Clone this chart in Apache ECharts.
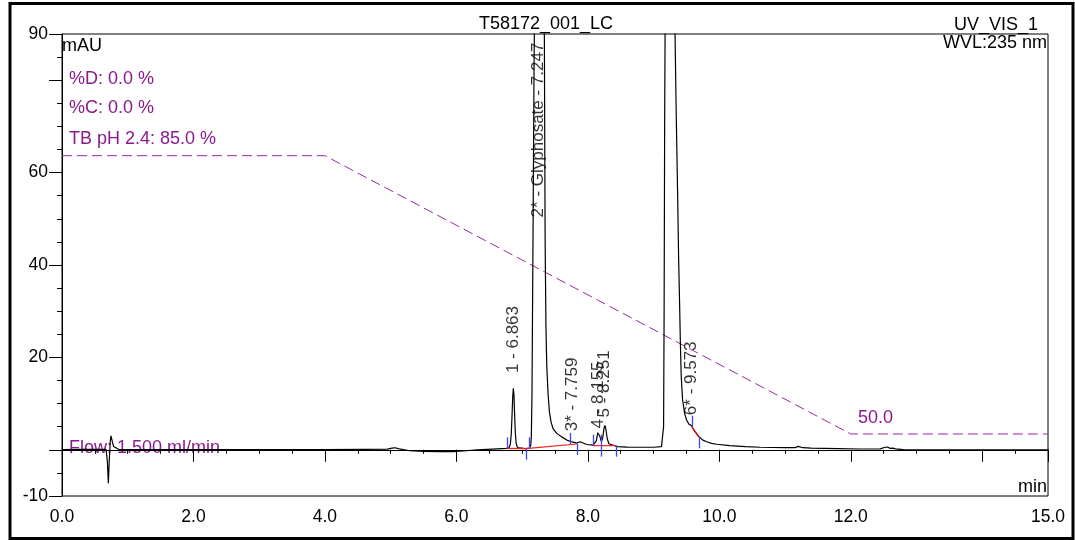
<!DOCTYPE html>
<html>
<head>
<meta charset="utf-8">
<script src="https://cdn.jsdelivr.net/npm/echarts@6/dist/echarts.min.js"></script>
<style>
    html, body { margin: 0; padding: 0; background: #fff; }
    #chart { width: 1075px; height: 540px; }
</style>
</head>
<body>
<div id="chart"></div>
<script>
// detector trace (min / mAU)
var traceTime = [
    0.00, 0.30, 0.60, 0.67, 0.69, 0.705, 0.72, 0.735, 0.745, 0.765, 0.785, 0.81, 0.86,
    1.2, 2.0, 3.0, 4.0, 4.6, 4.95, 5.02, 5.07, 5.13, 5.29, 5.5, 5.75, 5.95, 6.15, 6.31, 6.55,
    6.765, 6.80, 6.82, 6.835, 6.848, 6.857, 6.866, 6.876, 6.886, 6.897, 6.91, 6.93, 6.96, 7.05, 7.11,
    7.13, 7.14, 7.15, 7.165, 7.18, 7.195, 7.22, 7.247, 7.28, 7.31, 7.338, 7.35, 7.362, 7.375, 7.395,
    7.415, 7.44, 7.47, 7.53, 7.60, 7.68, 7.76, 7.83, 7.86, 7.885, 7.91, 7.98, 8.08,
    8.11, 8.13, 8.15, 8.165, 8.18, 8.205, 8.225, 8.245, 8.26, 8.275, 8.295, 8.32, 8.35, 8.45, 8.6, 8.8, 9.0,
    9.12, 9.14, 9.152, 9.16, 9.168, 9.178, 9.2, 9.25, 9.30, 9.326, 9.345, 9.366, 9.38, 9.395, 9.406,
    9.42, 9.44, 9.47, 9.50, 9.535, 9.56, 9.578, 9.595, 9.62, 9.646, 9.67, 9.696, 9.75, 9.808, 9.88, 9.96,
    10.16, 10.4, 10.62, 11.0, 11.15, 11.2, 11.23, 11.27, 11.4, 11.8, 12.14, 12.45, 12.52, 12.556, 12.6,
    12.64, 12.68, 12.8, 13.5, 14.2, 15.0
];
var traceSignal = [
    0.05, 0.08, 0.1, 0.1, -2.5, -7.25, -2.0, 2.0, 3.0, 1.8, 0.7, 0.3, 0.1,
    0.05, 0.05, 0.05, 0.05, 0.1, 0.15, 0.35, 0.45, 0.2, -0.2, -0.35, -0.4, -0.4, -0.2, 0.0, 0.15,
    0.3, 0.45, 1.2, 3.5, 8.0, 11.5, 13.3, 11.8, 7.5, 3.5, 1.3, 0.5, 0.3, 0.25, 0.35,
    0.9, 3, 12, 45, 80, 105, 135, 150, 135, 115, 90, 45, 27, 18, 12,
    8.2, 6.0, 4.6, 3.5, 2.8, 2.1, 1.7, 1.45, 1.6, 1.75, 1.45, 1.15, 1.0,
    1.05, 2.0, 3.7, 4.1, 3.0, 1.8, 2.5, 4.6, 5.3, 4.4, 2.4, 1.3, 0.9, 0.7, 0.6, 0.55, 0.55,
    0.7, 0.95, 5, 30, 70, 100, 180, 220, 160, 90, 72, 55, 42, 32, 24,
    16, 11, 8, 6.5, 5.6, 5.3, 5.2, 4.7, 4.1, 3.6, 3.1, 2.7, 2.1, 1.75, 1.4, 1.2,
    0.9, 0.7, 0.55, 0.45, 0.45, 0.75, 0.8, 0.45, 0.35, 0.25, 0.17, 0.2, 0.55, 0.6, 0.3,
    0.35, 0.2, 0.05, 0.0, 0.0, 0.0
];

// gradient program (TB pH 2.4, %)
var gradientTime = [0, 4, 12, 15];
var gradientPercent = [85, 85, 50, 50];

// identified peaks
var peakTimes = [6.863, 7.247, 7.759, 8.155, 8.251, 9.573];
var peakNames = ['1 - 6.863', '2* - Glyphosate - 7.247', '3* - 7.759', '4 - 8.155', '5 - 8.251', '6* - 9.573'];
var peakLabelLevel = [16.6, 50.3, 4.0, 4.6, 7.0, 7.5];

// integration baselines [t1, v1, t2, v2] and delimiters [t, v, side]
var integrationBaselines = [
    [6.765, 0.32, 7.055, 0.25],
    [7.055, 0.25, 7.83, 1.26],
    [8.08, 0.9, 8.43, 0.9],
    [9.58, 5.0, 9.70, 2.7]
];
var integrationMarks = [
    [6.765, 0.32, 1], [7.055, 0.25, -1], [7.11, 0.3, 1], [7.729, 1.26, 1], [7.83, 1.26, -1],
    [8.083, 0.9, 1], [8.196, 0.9, 0], [8.428, 0.9, -1], [9.58, 5.0, 1], [9.696, 2.7, -1]
];

// axis ticks
var xMajorTicks = [0, 2, 4, 6, 8, 10, 12, 14, 15];
var xTickLabels = [0, 2, 4, 6, 8, 10, 12, 15];
var yMajorTicks = [-10, 0, 20, 40, 60, 80, 90];
var yTickLabels = [-10, 20, 40, 60, 90];

var fontName = '"Liberation Sans", Arial, sans-serif';
var purple = '#8b1a8b';
var gridBox = { left: 62, top: 34, right: 27, bottom: 44 };

var chart = echarts.init(document.getElementById('chart'), null, { renderer: 'canvas' });

var traceData = traceTime.map(function(t, i) {
    return [t, traceSignal[i]];
});
var gradientData = gradientTime.map(function(t, i) {
    return [t, gradientPercent[i]];
});
var peakData = peakTimes.map(function(t, i) {
    return { value: [t, peakLabelLevel[i]], name: peakNames[i] };
});

function textEl(text, x, y, align, color) {
    return {
        type: 'text',
        x: x,
        y: y,
        silent: true,
        style: {
            text: text,
            fill: color || '#000',
            font: '18px ' + fontName,
            textAlign: align || 'left',
            textVerticalAlign: 'middle'
        }
    };
}

var option = {
    animation: false,
    backgroundColor: '#fff',
    textStyle: { fontFamily: fontName },
    grid: [
        Object.assign({ show: true, borderColor: '#000', borderWidth: 1, backgroundColor: 'transparent' }, gridBox),
        Object.assign({}, gridBox)
    ],
    xAxis: [
        {
            gridIndex: 0,
            type: 'value',
            min: 0,
            max: 15,
            interval: 0.5,
            axisLine: { lineStyle: { color: '#000', width: 1 } },
            axisTick: { length: 4, lineStyle: { color: '#000' } },
            axisLabel: { show: false },
            splitLine: { show: false }
        },
        {
            gridIndex: 1,
            type: 'value',
            min: 0,
            max: 15,
            interval: 0.5,
            axisLine: { show: false },
            axisTick: { customValues: xMajorTicks, length: 12, lineStyle: { color: '#000' } },
            axisLabel: {
                customValues: xTickLabels,
                margin: 12,
                fontSize: 17.5,
                color: '#000',
                fontFamily: fontName,
                formatter: function(v) { return v.toFixed(1); }
            },
            splitLine: { show: false }
        }
    ],
    yAxis: [
        {
            gridIndex: 0,
            type: 'value',
            min: -10,
            max: 90,
            interval: 5,
            axisLine: { show: true, lineStyle: { color: '#000', width: 1 } },
            axisTick: { show: true, length: 5, lineStyle: { color: '#000' } },
            axisLabel: { show: false },
            splitLine: { show: false }
        },
        {
            gridIndex: 0,
            type: 'value',
            position: 'right',
            min: 42.2,
            max: 100.3,
            show: false,
            splitLine: { show: false }
        },
        {
            gridIndex: 1,
            type: 'value',
            min: -10,
            max: 90,
            interval: 5,
            axisLine: { show: false },
            axisTick: { show: true, customValues: yMajorTicks, length: 13, lineStyle: { color: '#000' } },
            axisLabel: {
                customValues: yTickLabels,
                margin: 14,
                fontSize: 17.5,
                color: '#000',
                fontFamily: fontName
            },
            splitLine: { show: false }
        }
    ],
    series: [
        {
            name: 'gradient',
            type: 'line',
            xAxisIndex: 0,
            yAxisIndex: 1,
            data: gradientData,
            showSymbol: false,
            silent: true,
            lineStyle: { color: '#9a2aa0', width: 1, type: [10, 5] },
            z: 2
        },
        {
            name: 'UV_VIS_1',
            type: 'line',
            xAxisIndex: 0,
            yAxisIndex: 0,
            data: traceData,
            showSymbol: false,
            silent: true,
            clip: true,
            lineStyle: { color: '#000', width: 1.2 },
            z: 3
        },
        {
            name: 'baselines',
            type: 'custom',
            xAxisIndex: 0,
            yAxisIndex: 0,
            data: integrationBaselines,
            encode: { x: [0, 2], y: [1, 3] },
            silent: true,
            z: 4,
            renderItem: function(params, api) {
                var a = api.coord([api.value(0), api.value(1)]);
                var b = api.coord([api.value(2), api.value(3)]);
                return {
                    type: 'line',
                    shape: { x1: a[0], y1: a[1], x2: b[0], y2: b[1] },
                    style: { stroke: '#ff1a1a', lineWidth: 1.2 }
                };
            }
        },
        {
            name: 'delimiters',
            type: 'custom',
            xAxisIndex: 0,
            yAxisIndex: 0,
            data: integrationMarks,
            encode: { x: 0, y: 1 },
            silent: true,
            z: 5,
            renderItem: function(params, api) {
                var p = api.coord([api.value(0), api.value(1)]);
                var side = api.value(2);
                var y1 = side >= 0 ? p[1] - 11 : p[1];
                var y2 = side <= 0 ? p[1] + 11 : p[1];
                return {
                    type: 'line',
                    shape: { x1: Math.round(p[0]) + 0.5, y1: y1, x2: Math.round(p[0]) + 0.5, y2: y2 },
                    style: { stroke: '#3a46ff', lineWidth: 1.3 }
                };
            }
        },
        {
            name: 'peaks',
            type: 'scatter',
            xAxisIndex: 0,
            yAxisIndex: 0,
            data: peakData,
            symbolSize: 0,
            silent: true,
            z: 6,
            label: {
                show: true,
                position: [0, 0],
                rotate: 90,
                align: 'left',
                verticalAlign: 'middle',
                fontSize: 17,
                fontFamily: fontName,
                color: '#000',
                formatter: function(p) { return p.name; }
            }
        }
    ],
    graphic: [
        {
            type: 'rect',
            silent: true,
            shape: { x: 10, y: 3.5, width: 1063, height: 535 },
            style: { fill: 'none', stroke: '#000', lineWidth: 3 }
        },
        textEl('T58172_001_LC', 546, 24, 'center'),
        textEl('UV_VIS_1', 1038, 25, 'right'),
        textEl('WVL:235 nm', 1047, 43, 'right'),
        textEl('mAU', 62, 46, 'left'),
        textEl('min', 1047, 487, 'right'),
        textEl('%D: 0.0 %', 69, 79, 'left', purple),
        textEl('%C: 0.0 %', 69, 108, 'left', purple),
        textEl('TB pH 2.4: 85.0 %', 69, 139, 'left', purple),
        textEl('Flow: 1.500 ml/min', 69, 448, 'left', purple),
        textEl('50.0', 858, 418, 'left', purple)
    ]
};

chart.setOption(option);
</script>
</body>
</html>
